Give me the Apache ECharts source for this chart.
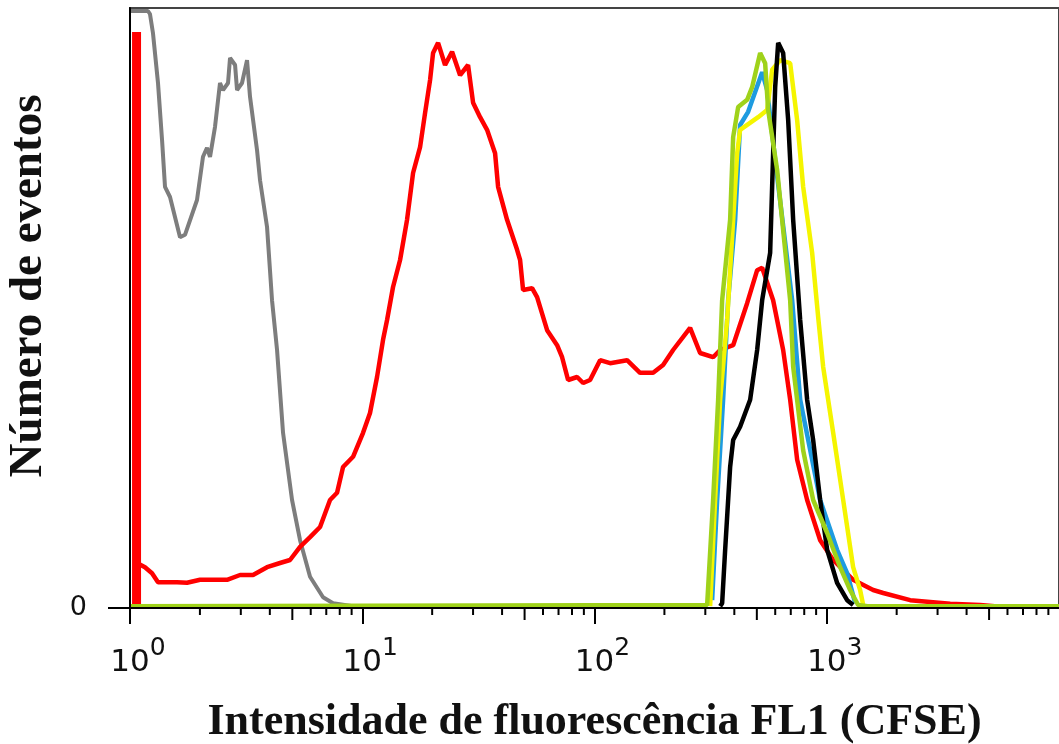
<!DOCTYPE html>
<html>
<head>
<meta charset="utf-8">
<script src="https://cdn.jsdelivr.net/npm/echarts@6/dist/echarts.min.js"></script>
<style>
  html, body { margin: 0; padding: 0; background: #fff; }
  #chart { width: 1059px; height: 744px; }
</style>
</head>
<body>
<div id="chart"></div>
<script>
// fluorescence histograms, [FL1 intensity, % of max events]
const grayCurve = [[1.0, 99.5], [1.195, 99.5], [1.219, 99], [1.256, 95.8], [1.32, 87.5], [1.374, 78], [1.415, 70.2],
  [1.487, 68.5], [1.642, 61.8], [1.725, 62.2], [1.943, 68], [2.062, 75.2], [2.146, 76.7], [2.211, 75.2],
  [2.323, 80.2], [2.441, 87.5], [2.515, 86.3], [2.643, 87.5], [2.696, 91.7], [2.834, 90.5], [2.89, 86.3],
  [3.036, 87.5], [3.191, 91.3], [3.287, 85.2], [3.524, 76.3], [3.63, 71.3], [3.891, 63.5], [4.088, 51.3],
  [4.297, 43], [4.56, 29.2], [4.986, 18], [5.397, 11.3], [5.96, 5.2], [6.78, 1.8], [7.485, 0.8], [9.128, 0.3], [10, 0.2]]

const redSpike = [[1.067, 0], [1.067, 96]]

const redCurve = [[1.072, 7.5], [1.16, 6.8], [1.244, 5.8], [1.32, 4.3], [1.594, 4.3], [1.76, 4.2], [2.002, 4.7],
  [2.617, 4.7], [2.977, 5.5], [3.386, 5.5], [3.891, 6.8], [4.426, 7.5], [4.887, 8], [5.397, 10.2], [5.96, 11.8],
  [6.582, 13.5], [7.265, 18], [7.79, 19.2], [8.267, 23.5], [9.128, 25.2], [10.08, 29.2], [10.8, 32.5],
  [11.58, 38.5], [12.29, 44.7], [12.79, 48], [13.57, 53.5], [14.55, 58], [15.59, 64.7], [16.55, 72.5],
  [17.74, 76.8], [18.64, 82.5], [19.59, 88], [20.18, 92.5], [21.21, 94.2], [22.73, 90.5], [24.36, 92.7],
  [26.38, 88.8], [28.55, 90.5], [30.01, 84.2], [32.17, 81.8], [34.47, 79.7], [37.32, 75.8], [38.45, 70.2],
  [42.03, 64.7], [46.42, 59.7], [47.82, 58], [49.26, 53], [53.86, 53.3], [56.6, 51.8], [62.51, 46.3],
  [69.03, 43.8], [72.53, 41.8], [76.97, 38], [84.17, 38.5], [89.33, 37.5], [95.72, 38], [105.7, 41.3],
  [116.7, 40.8], [138.1, 41.3], [157.1, 39.2], [178.8, 39.2], [197.4, 40.5], [218, 43], [258, 46.7],
  [284.9, 42.5], [324.2, 41.8], [347.5, 43], [395.4, 43.8], [454.2, 50.8], [501.6, 56.3], [527.1, 56.7],
  [587.7, 51.3], [649.1, 43], [695.8, 34.7], [745.7, 24.7], [823.3, 18], [936.7, 11.3], [1066, 8],
  [1299, 4.7], [1584, 3], [1750, 2.5], [2287, 1.3], [3400, 0.7], [4578, 0.5], [5600, 0.2]]

const blueCurve = [[321, 1.3], [337.4, 18], [357.9, 34.7], [376.2, 51.3], [403.2, 64.7], [423.6, 80.5],
  [458.7, 82.7], [527.1, 89.3], [553.9, 86.3], [599.7, 74.7], [709.7, 51.3], [768.4, 34.7], [936.7, 18],
  [1108, 9.7], [1224, 5.8], [1326, 0.8]]

const yellowCurve = [[314.7, 0.3], [330.6, 18], [347.5, 34.7], [372.5, 48], [395.4, 64.7], [411.4, 75.8],
  [423.6, 79.7], [506.6, 81.8], [553.9, 83], [582.1, 89.7], [630, 91.3], [695.8, 90.8], [745.7, 81.3],
  [791.4, 70.2], [865.2, 59.2], [918.4, 48.5], [965, 40.2], [1066, 29.2], [1177, 18], [1299, 6.8],
  [1392, 3], [1435, 0.5]]

const blackCurve = [[347.5, 0.3], [354.5, 0.8], [365.2, 9.7], [383.7, 23.5], [395.4, 28], [423.6, 30.2],
  [467.9, 34.7], [501.6, 43], [527.1, 51.3], [570.5, 59.2], [587.7, 75.8], [599.7, 86.8], [617.8, 94.2],
  [649.1, 92.5], [682.2, 81.3], [716.8, 64.7], [768.4, 48], [823.3, 34.7], [873.9, 28], [936.7, 18],
  [1004, 9.7], [1108, 4.2], [1224, 1.3], [1299, 0.5]]

const greenCurve = [[1, 0.3], [305.5, 0.5], [324.2, 18], [340.7, 34.7], [354.5, 51.3], [383.7, 64.7],
  [395.4, 78.5], [415.5, 83.5], [454.2, 84.7], [477.2, 86.8], [516.7, 92.5], [542.9, 90.8], [559.3, 83],
  [611.6, 73], [695.8, 51.3], [716.8, 40.2], [791.4, 26.3], [873.9, 18], [1004, 12.5], [1142, 6.8],
  [1261, 3], [1365, 0.5], [1500, 0.3], [10000, 0.3]]

const minorTicks = [2, 3, 4, 5, 6, 7, 8, 9, 20, 30, 40, 50, 60, 70, 80, 90,
  200, 300, 400, 500, 600, 700, 800, 900, 2000, 3000, 4000, 5000, 6000, 7000, 8000, 9000]

const chart = echarts.init(document.getElementById('chart'))

const titleFont = { fontFamily: 'Liberation Serif', fontWeight: 'bold', color: '#111' }

function curve(data, color, width) {
  return {
    type: 'line',
    data: data,
    showSymbol: false,
    symbol: 'none',
    animation: false,
    lineStyle: { color: color, width: width || 4.5 },
    silent: true
  }
}

const option = {
  animation: false,
  grid: {
    left: 130, right: 0, top: 8, bottom: 136,
    containLabel: false, outerBoundsMode: 'none',
    show: true, borderColor: '#444', borderWidth: 2
  },
  xAxis: {
    type: 'log',
    logBase: 10,
    min: 1,
    max: 10000,
    z: 5,
    name: 'Intensidade de fluorescência FL1 (CFSE)',
    nameLocation: 'middle',
    nameGap: 93,
    nameTextStyle: Object.assign({ fontSize: 44 }, titleFont),
    axisLine: { lineStyle: { color: '#000', width: 2 } },
    axisTick: { show: true, length: 16, lineStyle: { color: '#000', width: 2 } },
    splitLine: { show: false },
    axisLabel: {
      showMaxLabel: false,
      margin: 28,
      padding: [0, 0, 0, 16],
      formatter: function (v) {
        return '{b|10}{s|' + Math.round(Math.log10(v)) + '}'
      },
      rich: {
        b: { fontFamily: 'DejaVu Sans', fontSize: 31, color: '#111', lineHeight: 42, verticalAlign: 'bottom' },
        s: { fontFamily: 'DejaVu Sans', fontSize: 25, color: '#111', lineHeight: 42, verticalAlign: 'top' }
      }
    }
  },
  yAxis: {
    type: 'value',
    min: 0,
    max: 100,
    z: 5,
    name: 'Número de eventos',
    nameLocation: 'middle',
    nameGap: 78,
    nameTextStyle: Object.assign({ fontSize: 47, padding: [0, 0, 0, 44] }, titleFont),
    axisLine: { show: true, lineStyle: { color: '#000', width: 2 } },
    axisTick: { show: true, customValues: [0], length: 22, lineStyle: { color: '#000', width: 2 } },
    axisLabel: { customValues: [0], margin: 43, fontFamily: 'DejaVu Sans', fontSize: 27, color: '#111' },
    splitLine: { show: false }
  },
  series: [
    curve(grayCurve, '#7d7d7d', 4),
    curve(redSpike, '#ff0000', 9),
    curve(redCurve, '#ff0000'),
    curve(blueCurve, '#1e9be0'),
    curve(yellowCurve, '#f5f500'),
    curve(blackCurve, '#000000'),
    curve(greenCurve, '#9fd21a'),
    {
      type: 'custom',
      data: minorTicks.map(v => [v, 0]),
      clip: false,
      silent: true,
      z: 6,
      renderItem: function (params, api) {
        const v = api.value(0)
        const p = api.coord([v, 0])
        const len = String(v)[0] === '5' ? 12 : 7
        return {
          type: 'line',
          shape: { x1: p[0], y1: p[1], x2: p[0], y2: p[1] + len },
          style: { stroke: '#000', lineWidth: 2 }
        }
      }
    }
  ]
}

chart.setOption(option)
</script>
</body>
</html>
